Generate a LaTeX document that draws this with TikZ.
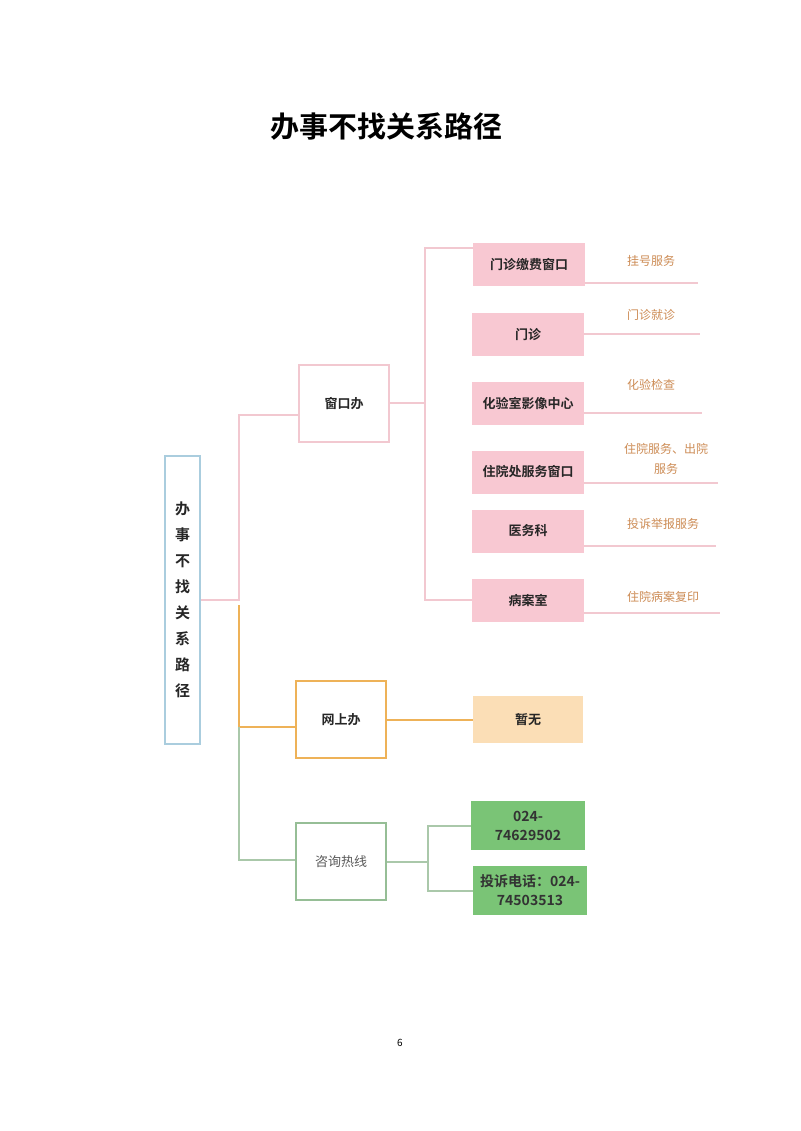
\documentclass[tikz,border=0pt]{standalone}
\usepackage{fontspec}
\setmainfont{Noto Sans CJK SC}
\newfontfamily\cjkb{Noto Sans CJK SC Bold}
\usetikzlibrary{positioning}
\definecolor{pinkline}{RGB}{242,200,208}
\definecolor{pinkfill}{RGB}{248,200,210}
\definecolor{labtext}{RGB}{205,140,85}
\definecolor{orline}{RGB}{238,178,88}
\definecolor{orfill}{RGB}{251,222,182}
\definecolor{grline}{RGB}{170,200,170}
\definecolor{grfill}{RGB}{122,196,118}
\definecolor{grborder}{RGB}{150,190,150}
\definecolor{rootborder}{RGB}{170,205,222}
\tikzset{
  pinkln/.style={draw=pinkline,line width=1.5pt},
  orln/.style={draw=orline,line width=1.5pt},
  grln/.style={draw=grline,line width=1.5pt},
  pinkbox/.style={fill=pinkfill,draw=none,minimum width=112pt,minimum height=43pt,inner sep=0pt,font=\cjkb\fontsize{13}{15}\selectfont,text=black!85},
  midbox/.style={draw,line width=1.5pt,fill=white,minimum width=90pt,minimum height=77pt,inner sep=0pt,font=\cjkb\fontsize{13}{15}\selectfont,text=black!85},
  labnode/.style={text=labtext,font=\fontsize{12}{20}\selectfont,inner sep=0pt,align=center},
  grbox/.style={fill=grfill,draw=none,minimum width=114pt,minimum height=49pt,inner sep=0pt,align=center,font=\cjkb\fontsize{14}{19}\selectfont,text=black!80},
}
\begin{document}
\begin{tikzpicture}[x=1pt,y=-1pt]
\useasboundingbox[fill=white] (0,0) rectangle (800,1131);
% title
\node[font=\cjkb\fontsize{29}{32}\selectfont] (title) at (386,127) {办事不找关系路径};
% root
\node[draw=rootborder,line width=1.5pt,minimum width=35pt,minimum height=288pt,inner sep=0pt,align=center,font=\cjkb\fontsize{15}{26}\selectfont,text=black!85] (root) at (182.5,600) {办\\事\\不\\找\\关\\系\\路\\径};
% middle boxes
\node[midbox,draw=pinkline] (win) at (344,403.5) {窗口办};
\node[midbox,draw=orline] (web) at (341,719.5) {网上办};
\node[midbox,draw=grborder,font=\fontsize{13}{15}\selectfont,text=black!65] (hot) at (341,861.5) {咨询热线};
% pink boxes
\node[pinkbox] (a1) at (529,265) {门诊缴费窗口};
\node[pinkbox] (a2) at (528,334.5) {门诊};
\node[pinkbox] (a3) at (528,403) {化验室影像中心};
\node[pinkbox] (a4) at (528,472) {住院处服务窗口};
\node[pinkbox] (a5) at (528,531) {医务科};
\node[pinkbox] (a6) at (528,600.5) {病案室};
% labels
\node[labnode] (b1) at (651,261) {挂号服务};
\node[labnode] (b2) at (651,315) {门诊就诊};
\node[labnode] (b3) at (651,385) {化验检查};
\node[labnode] (b4) at (666,459) {住院服务、出院\\服务};
\node[labnode] (b5) at (663,524) {投诉举报服务};
\node[labnode] (b6) at (663,597) {住院病案复印};
% orange / green leaves
\node[fill=orfill,minimum width=110pt,minimum height=47pt,inner sep=0pt,font=\cjkb\fontsize{13}{15}\selectfont,text=black!85] (nn) at (528,719.5) {暂无};
\node[grbox] (p1) at (528,825.5) {024-\\74629502};
\node[grbox] (p2) at (530,890.5) {投诉电话：024-\\74503513};
% page number
\node[font=\fontsize{10}{12}\selectfont] (pg) at (400,1043) {6};
% coordinates
\coordinate (t1) at (239,600);
\coordinate (jw) at (239,415);
\coordinate (t2) at (239,605);
\coordinate (oj) at (239,727);
\coordinate (gj) at (239,860);
\coordinate (wy) at (0,720);
\coordinate (xy) at (0,403);
\coordinate (vtop) at (425,248);
\coordinate (vbot) at (425,600);
\coordinate (gv) at (428,862);
\coordinate (gv1) at (428,826);
\coordinate (gv2) at (428,891);
\coordinate (l1) at (698,283);
\coordinate (l2) at (700,334);
\coordinate (l3) at (702,413);
\coordinate (l4) at (718,483);
\coordinate (l5) at (716,546);
\coordinate (l6) at (720,613);
% connectors
\draw[pinkln] (root.east |- t1) -- (t1) -- (jw) -- (jw -| win.west);
\draw[pinkln] (win.east |- xy) -- (vtop |- xy);
\draw[pinkln] (vtop -| a1.west) -- (vtop) -- (vbot) -- (vbot -| a6.west);
\draw[pinkln] (l1 -| a1.east) -- (l1);
\draw[pinkln] (l2 -| a2.east) -- (l2);
\draw[pinkln] (l3 -| a3.east) -- (l3);
\draw[pinkln] (l4 -| a4.east) -- (l4);
\draw[pinkln] (l5 -| a5.east) -- (l5);
\draw[pinkln] (l6 -| a6.east) -- (l6);
\draw[orln] (t2) -- (oj) -- (oj -| web.west);
\draw[orln] (web.east |- wy) -- (nn.west |- wy);
\draw[grln] (oj) -- (gj) -- (gj -| hot.west);
\draw[grln] (hot.east |- gv) -- (gv);
\draw[grln] (gv1 -| p1.west) -- (gv1) -- (gv2) -- (gv2 -| p2.west);
\end{tikzpicture}
\end{document}
